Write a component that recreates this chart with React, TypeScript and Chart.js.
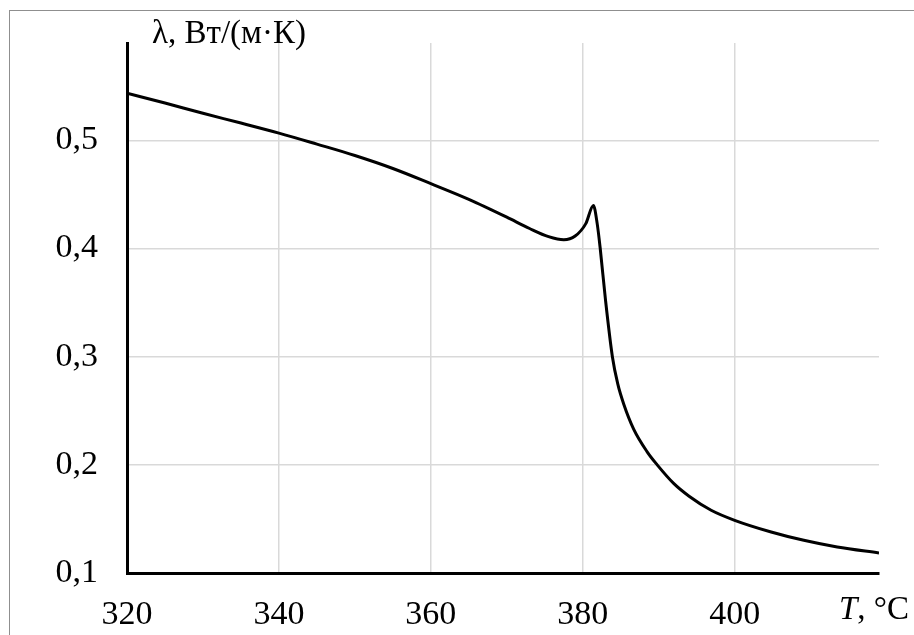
import React, { useEffect, useRef } from "react";
import { Chart, registerables } from "chart.js";

Chart.register(...registerables);

// Thermal conductivity vs temperature
const temperatures = [
  320, 325, 330, 335, 340, 345, 350, 355, 360, 365, 370, 373, 375.5, 377.5,
  379.0, 380.4, 381.4, 381.9, 382.3, 383.0, 383.9, 384.6, 385.4, 386.7,
  388.5, 389.8, 392.0, 394.0, 396.9, 400, 404.8, 409.1, 413.5, 419,
];
const conductivity = [
  0.5436, 0.5345, 0.525, 0.516, 0.5067, 0.4965, 0.486, 0.474, 0.46, 0.4455,
  0.429, 0.4185, 0.411, 0.4081, 0.4115, 0.423, 0.4398, 0.423, 0.4, 0.352,
  0.3, 0.275, 0.256, 0.233, 0.2118, 0.2, 0.1826, 0.171, 0.158, 0.1487,
  0.1379, 0.1302, 0.124, 0.1185,
];

const xTickLabels = ["320", "340", "360", "380", "400"];
const yTickLabels = ["0,1", "0,2", "0,3", "0,4", "0,5"];

const yTitle = "λ, Вт/(м·К)";
const xTitleSymbol = "T";
const xTitleUnit = ", °C";

const SERIF = '"Liberation Serif", "Times New Roman", serif';

const axisTitles = {
  id: "axisTitles",
  afterDraw(chart: any) {
    const ctx = chart.ctx;
    const area = chart.chartArea;
    ctx.save();
    ctx.fillStyle = "#000";
    ctx.textBaseline = "middle";
    ctx.textAlign = "left";
    ctx.font = `33px ${SERIF}`;
    ctx.fillText(yTitle, area.left + 25, 34);

    const y = chart.scales.x.bottom - 25;
    ctx.font = `italic 33px ${SERIF}`;
    const tx = 839;
    ctx.fillText(xTitleSymbol, tx, y);
    const w = ctx.measureText(xTitleSymbol).width;
    ctx.font = `33px ${SERIF}`;
    ctx.fillText(xTitleUnit, tx + w, y);
    ctx.restore();
  },
};

export default function App() {
  const ref = useRef<HTMLCanvasElement | null>(null);

  useEffect(() => {
    if (!ref.current) return;
    const points = temperatures.map((t, i) => ({ x: t, y: conductivity[i] }));
    const chart = new Chart(ref.current, {
      type: "line",
      data: {
        datasets: [
          {
            data: points,
            borderColor: "#000",
            borderWidth: 3,
            pointRadius: 0,
            cubicInterpolationMode: "monotone",
            fill: false,
          },
        ],
      },
      options: {
        animation: false,
        responsive: false,
        maintainAspectRatio: false,
        layout: { padding: { left: 0, top: 43, right: 35, bottom: 0 } },
        plugins: {
          legend: { display: false },
          tooltip: { enabled: false },
        },
        scales: {
          x: {
            type: "linear",
            min: 320,
            max: 419,
            afterFit: (s: any) => {
              s.height = 62;
              s.paddingLeft = 0;
              s.paddingRight = 0;
            },
            ticks: {
              stepSize: 20,
              includeBounds: false,
              maxRotation: 0,
              padding: 22,
              color: "#000",
              font: { family: SERIF, size: 34 },
              callback: (v: any) => {
                const i = Math.round((Number(v) - 320) / 20);
                return xTickLabels[i] ?? "";
              },
            },
            grid: { color: "#d9d9d9", lineWidth: 1.5, drawTicks: false },
            border: { color: "#000", width: 3 },
          },
          y: {
            type: "linear",
            min: 0.1,
            max: 0.59,
            afterFit: (s: any) => {
              s.width = 127;
              s.paddingTop = 0;
              s.paddingBottom = 0;
            },
            ticks: {
              stepSize: 0.1,
              includeBounds: false,
              padding: 29,
              color: "#000",
              font: { family: SERIF, size: 34 },
              callback: (v: any) => {
                const i = Math.round((Number(v) - 0.1) / 0.1);
                return yTickLabels[i] ?? "";
              },
            },
            grid: { color: "#d9d9d9", lineWidth: 1.5, drawTicks: false },
            border: { color: "#000", width: 3 },
          },
        },
      },
      plugins: [axisTitles],
    });
    return () => chart.destroy();
  }, []);

  return (
    <div
      style={{
        position: "fixed",
        left: 0,
        top: 0,
        width: 914,
        height: 635,
        background: "#fff",
        overflow: "hidden",
      }}
    >
      <div
        style={{
          position: "absolute",
          left: 9,
          top: 10,
          width: 905,
          height: 625,
          borderLeft: "1px solid #8f8f8f",
          borderTop: "1px solid #8f8f8f",
        }}
      />
      <canvas
        ref={ref}
        width={914}
        height={635}
        style={{ position: "absolute", left: 0, top: 0, width: 914, height: 635 }}
      />
    </div>
  );
}
